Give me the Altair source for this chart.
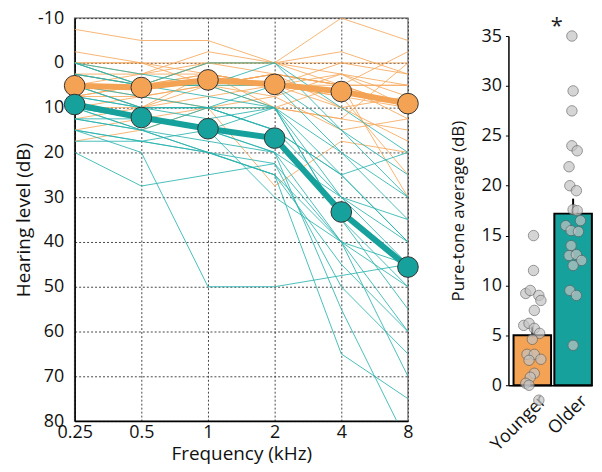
import altair as alt
import pandas as pd

# ---------------- data ----------------
freqs = ["0.25", "0.5", "1", "2", "4", "8"]

younger_lines = [
    [-7.5, -5, -5, 0, -10, -5],
    [-2.5, 0, 0, 0, 0, 0],
    [0, 0, 5, 2.5, 5, -2.5],
    [0, 2.5, -2.5, 0, 2.5, 5],
    [2.5, 5, 2.5, 5, 0, 2.5],
    [5, 5, 0, 2.5, 5, 5],
    [5, 7.5, 5, 2.5, 10, 7.5],
    [2.5, 2.5, 2.5, 5, 5, 10],
    [7.5, 5, 5, 10, 5, 12.5],
    [10, 10, 5, 5, 7.5, 10],
    [12.5, 10, 7.5, 5, 2.5, 7.5],
    [15, 12.5, 10, 10, 12.5, 15],
    [17.5, 15, 10, 27.5, 17.5, 20],
    [5, 2.5, 0, 0, -2.5, 2.5],
    [7.5, 5, 2.5, 5, 10, 17.5],
    [0, 0, 2.5, 5, 7.5, 25],
    [2.5, 5, 5, 2.5, 5, 30],
    [10, 7.5, 10, 7.5, 15, 12.5],
    [5, 10, 2.5, 10, 12.5, 0],
    [7.5, 7.5, 5, 2.5, 5, 5],
    [0, 5, 0, 0, 5, 10],
    [5, 5, 5, 7.5, 2.5, 10],
]

older_lines = [
    [0, 5, 0, 0, 10, 20],
    [0, 2.5, 5, 0, 15, 25],
    [2.5, 5, 5, 5, 20, 30],
    [5, 7.5, 10, 10, 25, 40],
    [5, 10, 10, 15, 30, 45],
    [7.5, 10, 12.5, 10, 35, 55],
    [10, 12.5, 15, 20, 40, 50],
    [10, 15, 20, 25, 45, 60],
    [12.5, 15, 17.5, 20, 30, 40],
    [15, 20, 50, 50, 47.5, 45],
    [20, 27.5, 25, 22.5, 50, 65],
    [17.5, 17.5, 20, 25, 65, 75],
    [12.5, 12.5, 15, 20, 55, 85],
    [15, 17.5, 15, 30, 40, 70],
    [0, 5, 7.5, 10, 20, 35],
    [5, 10, 10, 15, 25, 40],
    [10, 12.5, 15, 10, 35, 50],
    [7.5, 10, 10, 5, 15, 30],
    [10, 15, 10, 15, 25, 20],
    [15, 17.5, 20, 25, 40, 45],
    [2.5, 5, 5, 10, 30, 35],
    [12.5, 15, 20, 22.5, 40, 60],
]

younger_mean = [5.1, 5.5, 3.8, 4.8, 6.4, 9.1]
older_mean = [9.3, 12.2, 14.7, 16.8, 33.3, 45.6]

groups = ["Younger", "Older"]
pta_mean = [5.0, 17.2]
pta_sem = [0.9, 1.5]

younger_pta = [15, 11.5, 9.2, 9.5, 9.0, 8.5, 7.5, 6.0, 6.2, 5.7, 5.2, 4.6,
               3.1, 3.1, 2.6, 2.5, 1.2, 0.8, 0.2, 0.0, -1.5]
younger_jit = [0.03, 0.03, -0.16, -0.05, 0.16, 0.21, 0.05, -0.21, -0.08, 0.05,
               0.18, 0.0, -0.13, 0.05, 0.21, -0.08, 0.05, -0.05, -0.16, -0.08, 0.16]
older_pta = [35, 29.5, 27.5, 24, 23.5, 21.9, 20, 19.5, 17.6, 17.5, 16.5, 16,
             15.5, 15.4, 14, 13, 13.1, 12.5, 12, 9.5, 9, 4]
older_jit = [-0.03, 0.0, -0.03, -0.03, 0.1, -0.1, -0.08, 0.08, 0.0, 0.1, 0.18,
             -0.18, -0.05, 0.13, -0.05, -0.1, 0.08, 0.21, 0.0, -0.08, 0.08, 0.0]

ORANGE = "#F4A354"
TEAL = "#16A19C"
ORANGE_THIN = "#F5A95C"
TEAL_THIN = "#2BB3AE"
FONT = "Open Sans"

# ---------------- tables ----------------
rows = []
for g, lines in (("Younger", younger_lines), ("Older", older_lines)):
    for i, vals in enumerate(lines):
        for f, v in zip(freqs, vals):
            rows.append({"group": g, "id": f"{g}{i}", "freq": f, "hl": v})
ind_df = pd.DataFrame(rows)

mean_rows = []
for g, vals in (("Younger", younger_mean), ("Older", older_mean)):
    for f, v in zip(freqs, vals):
        mean_rows.append({"group": g, "freq": f, "hl": v})
mean_df = pd.DataFrame(mean_rows)

bar_df = pd.DataFrame({
    "group": groups,
    "idx": list(range(len(groups))),
    "v": pta_mean,
    "hi": [m + s for m, s in zip(pta_mean, pta_sem)],
})
pts_df = pd.DataFrame(
    [{"group": "Younger", "idx": 0, "v": v, "jit": j} for v, j in zip(younger_pta, younger_jit)]
    + [{"group": "Older", "idx": 1, "v": v, "jit": j} for v, j in zip(older_pta, older_jit)]
)
star_df = pd.DataFrame({"label": ["*"], "pos": [0.6], "v": [36.0]})

color_scale = alt.Scale(domain=["Younger", "Older"], range=[ORANGE, TEAL])
thin_scale = alt.Scale(domain=["Younger", "Older"], range=[ORANGE_THIN, TEAL_THIN])

# ---------------- left panel ----------------
xL = alt.X("freq:O", sort=freqs,
           scale=alt.Scale(type="point", domain=freqs, padding=0),
           axis=alt.Axis(title="Frequency (kHz)", labelAngle=0, ticks=False,
                         labelPadding=3, titlePadding=3, grid=True,
                         gridDash=[2, 2], gridColor="#333", gridWidth=1,
                         gridOpacity=0.9,
                         domainColor="#000", domainWidth=1.5,
                         titleFontSize=19))
yL = alt.Y("hl:Q",
           scale=alt.Scale(domain=[-10, 80], reverse=True, nice=False),
           axis=alt.Axis(title="Hearing level (dB)", values=list(range(-10, 81, 10)),
                         labelExpr="'' + datum.value",
                         ticks=False, labelPadding=11, titlePadding=4, grid=True,
                         gridDash=[2, 2], gridColor="#333", gridWidth=1,
                         gridOpacity=0.9,
                         domainColor="#000", domainWidth=1.5,
                         titleFontSize=19))

thin = alt.Chart(ind_df).mark_line(strokeWidth=1, opacity=0.85, clip=True).encode(
    x=xL, y=yL, detail="id:N",
    color=alt.Color("group:N", scale=thin_scale, legend=None),
    order=alt.Order("group:N", sort="descending"),
)
mean_line = alt.Chart(mean_df).mark_line(strokeWidth=6).encode(
    x=xL, y=yL, detail="group:N",
    color=alt.Color("group:N", scale=color_scale, legend=None),
)
mean_pts = alt.Chart(mean_df).mark_point(filled=True, size=430, opacity=1,
                                         stroke="#333", strokeWidth=1).encode(
    x=xL, y=yL,
    fill=alt.Fill("group:N", scale=color_scale, legend=None),
)
left = alt.layer(thin, mean_line, mean_pts).resolve_scale(color="independent").properties(
    width=335, height=405,
    view=alt.ViewBackground(stroke="#888", strokeWidth=1.5),
)

# ---------------- right panel ----------------
xR_scale = alt.Scale(domain=[-0.585, 1.463], nice=False, zero=False)
xR_axis = alt.Axis(title=None, values=[0, 1],
                   labelExpr="datum.value == 0 ? 'Younger' : 'Older'",
                   labelAngle=315, labelAlign="right", labelBaseline="middle",
                   labelFlush=False, labelOffset=11, labelOverlap=False,
                   ticks=False, labelPadding=13, grid=False,
                   domainColor="#000", domainWidth=1.5)
yR = alt.Y("v:Q",
           scale=alt.Scale(domain=[0, 35], range=[369, 18], nice=False),
           axis=alt.Axis(title="Pure-tone average (dB)", values=list(range(0, 36, 5)),
                         grid=False, tickSize=3, tickColor="#000", labelPadding=4,
                         titlePadding=14, domainColor="#000", domainWidth=1.5,
                         titleFontSize=17))

bar_base = alt.Chart(bar_df).transform_calculate(
    x0="datum.idx - 0.46", x1="datum.idx + 0.46"
)
err = bar_base.mark_rule(color="#000", strokeWidth=2).encode(
    x=alt.X("idx:Q", scale=xR_scale, axis=xR_axis), y=yR, y2="hi:Q")
bars = bar_base.mark_bar(stroke="#000", strokeWidth=2).encode(
    x=alt.X("x0:Q", scale=xR_scale, axis=xR_axis), x2="x1:Q",
    y=yR, y2=alt.datum(0),
    color=alt.Color("group:N", scale=color_scale, legend=None),
)
dots = alt.Chart(pts_df).transform_calculate(
    xp="datum.idx + datum.jit"
).mark_circle(size=110, color="#c4c4c4", opacity=0.7,
              stroke="#666", strokeWidth=1).encode(
    x=alt.X("xp:Q", scale=xR_scale, axis=xR_axis), y=yR,
)
star = alt.Chart(star_df).mark_text(fontSize=22, font=FONT, baseline="middle",
                                    color="#222").encode(
    x=alt.X("pos:Q", scale=xR_scale, axis=xR_axis), y=yR, text="label:N")

right = alt.layer(err, bars, dots, star).properties(width=84, height=369)

chart = alt.hconcat(left, right, spacing=26).properties(
    padding={"left": 5, "top": -1, "right": 0, "bottom": 0}
).configure_view(
    stroke="transparent"
).configure_axis(
    labelFont=FONT, labelFontSize=18, labelColor="#111",
    titleFont=FONT, titleFontSize=18, titleFontWeight="normal", titleColor="#111",
)

chart.save("out.html", embed_options={"renderer": "svg", "actions": False})
